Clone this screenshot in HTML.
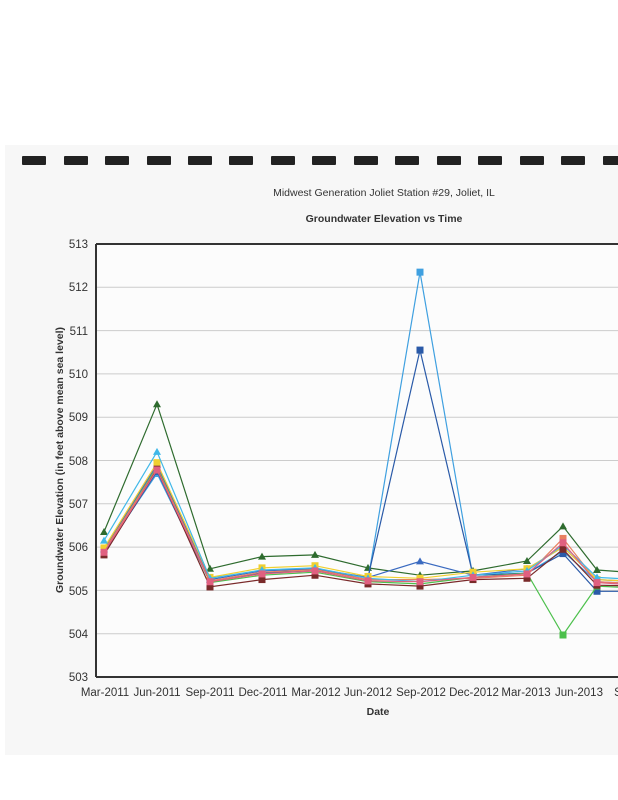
<!DOCTYPE html>
<html><head><meta charset="utf-8"><style>
html,body{margin:0;padding:0;background:#ffffff;}
svg{display:block;font-family:"Liberation Sans",sans-serif;}
</style></head><body>
<svg width="618" height="800" viewBox="0 0 618 800" xmlns="http://www.w3.org/2000/svg">
<rect width="618" height="800" fill="#ffffff"/>
<rect x="5" y="145" width="613" height="610" fill="#f7f7f7"/>
<g fill="#222">
<rect x="22" y="156" width="24" height="9" rx="1"/>
<rect x="64" y="156" width="24" height="9" rx="1"/>
<rect x="105" y="156" width="24" height="9" rx="1"/>
<rect x="147" y="156" width="24" height="9" rx="1"/>
<rect x="188" y="156" width="24" height="9" rx="1"/>
<rect x="229" y="156" width="24" height="9" rx="1"/>
<rect x="271" y="156" width="24" height="9" rx="1"/>
<rect x="312" y="156" width="24" height="9" rx="1"/>
<rect x="354" y="156" width="24" height="9" rx="1"/>
<rect x="395" y="156" width="24" height="9" rx="1"/>
<rect x="437" y="156" width="24" height="9" rx="1"/>
<rect x="478" y="156" width="24" height="9" rx="1"/>
<rect x="520" y="156" width="24" height="9" rx="1"/>
<rect x="561" y="156" width="24" height="9" rx="1"/>
<rect x="603" y="156" width="24" height="9" rx="1"/>
</g>
<text x="384" y="196" font-size="10.5" text-anchor="middle" fill="#333">Midwest Generation Joliet Station #29, Joliet, IL</text>
<text x="384" y="222" font-size="10.5" font-weight="bold" text-anchor="middle" fill="#333">Groundwater Elevation vs Time</text>
<rect x="96" y="244" width="522" height="433" fill="#fcfcfc"/>
<g stroke="#ccc" stroke-width="1">
<line x1="96" y1="287.3" x2="618" y2="287.3"/><line x1="96" y1="330.6" x2="618" y2="330.6"/>
<line x1="96" y1="373.9" x2="618" y2="373.9"/><line x1="96" y1="417.2" x2="618" y2="417.2"/>
<line x1="96" y1="460.5" x2="618" y2="460.5"/><line x1="96" y1="503.8" x2="618" y2="503.8"/>
<line x1="96" y1="547.1" x2="618" y2="547.1"/><line x1="96" y1="590.4" x2="618" y2="590.4"/>
<line x1="96" y1="633.7" x2="618" y2="633.7"/>
</g>
<line x1="96" y1="244" x2="618" y2="244" stroke="#333" stroke-width="2"/>
<line x1="96" y1="244" x2="96" y2="677" stroke="#333" stroke-width="2"/>
<line x1="96" y1="677" x2="618" y2="677" stroke="#333" stroke-width="2"/>
<g font-size="11.5" fill="#333" text-anchor="end">
<text x="88" y="248">513</text><text x="88" y="291">512</text><text x="88" y="335">511</text>
<text x="88" y="378">510</text><text x="88" y="421">509</text><text x="88" y="465">508</text>
<text x="88" y="508">507</text><text x="88" y="551">506</text><text x="88" y="595">505</text>
<text x="88" y="638">504</text><text x="88" y="681">503</text>
</g>
<g font-size="11.5" fill="#333" text-anchor="middle">
<text x="105" y="696">Mar-2011</text><text x="157" y="696">Jun-2011</text><text x="210" y="696">Sep-2011</text>
<text x="263" y="696">Dec-2011</text><text x="316" y="696">Mar-2012</text><text x="368" y="696">Jun-2012</text>
<text x="421" y="696">Sep-2012</text><text x="474" y="696">Dec-2012</text><text x="526" y="696">Mar-2013</text>
<text x="579" y="696">Jun-2013</text><text x="618" y="696">S</text>
</g>
<text x="378" y="715" font-size="10.5" font-weight="bold" text-anchor="middle" fill="#333">Date</text>
<text transform="translate(63,460) rotate(-90)" font-size="10.5" font-weight="bold" text-anchor="middle" fill="#333">Groundwater Elevation (in feet above mean sea level)</text>
<g id="series" fill="none" stroke-width="1.2"></g>
</svg>
<script>
var X=[104,157,210,262,315,368,420,473,527,563,597,640];
function Y(v){return 244+(513-v)*43.3;}
var S=[
["#2e6b2e","t",[506.35,509.3,505.5,505.78,505.82,505.52,505.35,505.45,505.68,506.48,505.47,505.4]],
["#3fa0e0","s",[505.9,507.7,505.2,505.4,505.5,505.25,512.35,505.3,505.4,505.9,505.2,505.15]],
["#2a5aa8","s",[505.85,507.75,505.2,505.4,505.45,505.3,510.55,505.35,505.4,505.85,504.98,504.98]],
["#3a6ac0","t",[505.95,507.9,505.25,505.45,505.5,505.3,505.67,505.35,505.5,506.0,505.25,505.2]],
["#4cc04c","s",[505.9,507.85,505.18,505.35,505.42,505.2,505.15,505.3,505.4,503.97,505.1,505.05]],
["#e88060","s",[505.92,507.82,505.22,505.42,505.48,505.25,505.25,505.28,505.35,506.2,505.2,505.15]],
["#f0d030","s",[505.98,507.95,505.3,505.52,505.57,505.32,505.28,505.42,505.5,506.0,505.25,505.2]],
["#40b8e8","t",[506.15,508.2,505.28,505.47,505.52,505.28,505.2,505.35,505.45,506.05,505.3,505.25]],
["#7a2a2a","s",[505.82,507.8,505.08,505.25,505.35,505.15,505.1,505.25,505.28,505.95,505.12,505.1]],
["#e06080","s",[505.88,507.78,505.2,505.38,505.45,505.22,505.2,505.3,505.38,506.1,505.18,505.12]]
];
var g=document.getElementById("series"),ns="http://www.w3.org/2000/svg";
S.forEach(function(s){var p=document.createElementNS(ns,"polyline");
p.setAttribute("points",s[2].map(function(v,i){return X[i]+","+Y(v).toFixed(1)}).join(" "));
p.setAttribute("stroke",s[0]);g.appendChild(p);
s[2].forEach(function(v,i){if(i>10)return;var x=X[i],y=Y(v),m;
if(s[1]=="s"){m=document.createElementNS(ns,"rect");m.setAttribute("x",x-3.5);m.setAttribute("y",y-3.5);m.setAttribute("width",7);m.setAttribute("height",7);}
else{m=document.createElementNS(ns,"polygon");m.setAttribute("points",x+","+(y-4)+" "+(x-4)+","+(y+3)+" "+(x+4)+","+(y+3));}
m.setAttribute("fill",s[0]);m.setAttribute("stroke","none");g.appendChild(m);});});
</script>
</body></html>
